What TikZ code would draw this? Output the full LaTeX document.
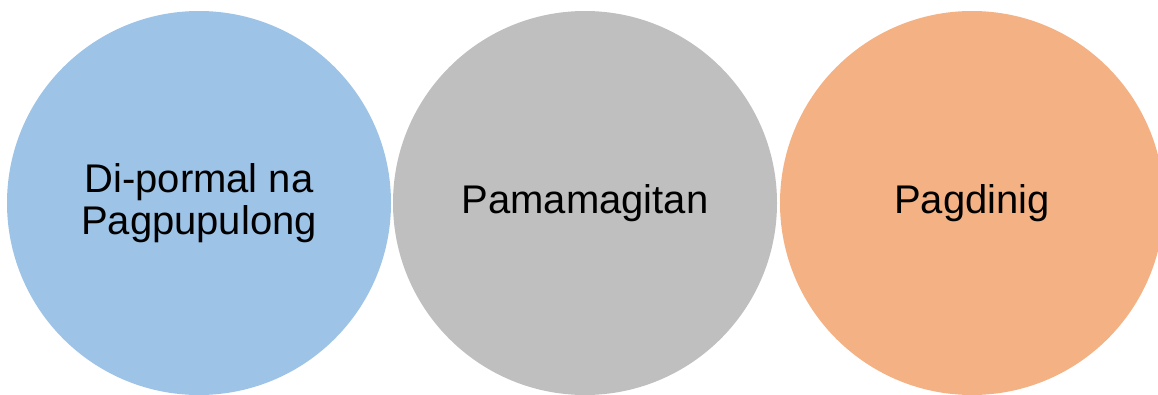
\documentclass[tikz,border=0pt]{standalone}
\usepackage{fontspec}
\setmainfont{Liberation Sans}
\usepackage{tikz}
\usetikzlibrary{positioning}
\definecolor{figblue}{RGB}{157,195,230}
\definecolor{figgray}{RGB}{191,191,191}
\definecolor{figorange}{RGB}{244,177,131}
\tikzset{
  stage/.style={circle, fill=#1, draw=none, minimum size=384pt, inner sep=0pt,
                align=center, font=\fontsize{40}{42}\selectfont, text=black},
}

\begin{document}
\begin{tikzpicture}[x=1pt, y=-1pt]

  % ─── canvas ────────────────────────────────────────────
  \useasboundingbox (0,0) rectangle (1158,394);
  \clip (0,0) rectangle (1158,394);

  % ─── three stages ──────────────────────────────────────
  \node[stage=figblue]   (impormal) at (199, 203) {Di-pormal na\\Pagpupulong};
  \node[stage=figgray]   (pamamag)  at (585, 203) {Pamamagitan};
  \node[stage=figorange] (pagdinig) at (972, 203) {Pagdinig};

\end{tikzpicture}
\end{document}
